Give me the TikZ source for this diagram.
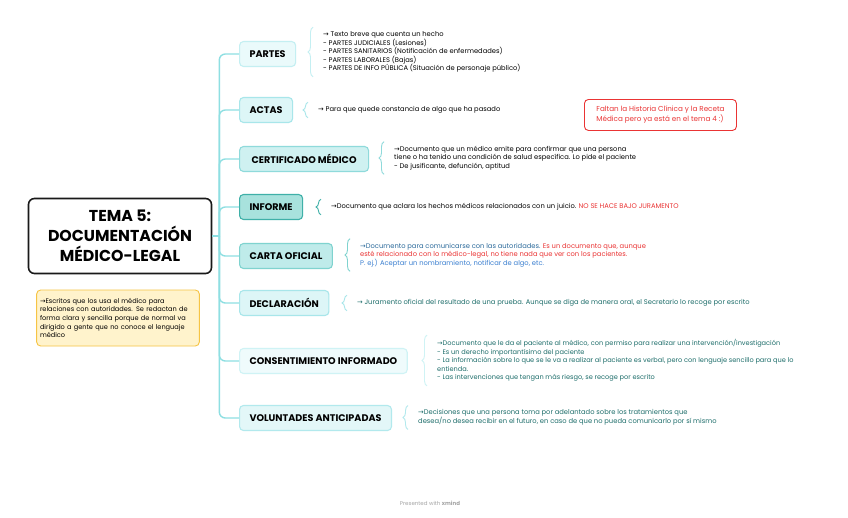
\documentclass[tikz,border=0pt]{standalone}
\usepackage{fontspec}
\setmainfont{Poppins}
\newfontfamily\symfont{DejaVu Sans}
\usetikzlibrary{positioning,calc,decorations.pathreplacing}

\definecolor{trunkc}{HTML}{8EDFE2}
\definecolor{txtteal}{HTML}{1E6E6B}
\definecolor{txtred}{HTML}{EA3434}
\definecolor{txtblue}{HTML}{2B6A9B}
\definecolor{txtblueb}{HTML}{3A7FD0}
\definecolor{yelfill}{HTML}{FFF3CC}
\definecolor{yeldraw}{HTML}{F6C445}
% topic borders / fills
\definecolor{bdA}{HTML}{C4EFF2}\definecolor{flA}{HTML}{EAFAFB}
\definecolor{bdB}{HTML}{A8E6EA}\definecolor{flB}{HTML}{DDF6F7}
\definecolor{bdC}{HTML}{8FDADB}\definecolor{flC}{HTML}{CFF1F1}
\definecolor{bdD}{HTML}{3FB0A8}\definecolor{flD}{HTML}{A8E2DD}
\definecolor{bdE}{HTML}{7FD3CF}\definecolor{flE}{HTML}{BFEBEA}
\definecolor{bdF}{HTML}{CFF3F5}\definecolor{flF}{HTML}{EFFBFC}
\definecolor{bdG}{HTML}{B2E9ED}\definecolor{flG}{HTML}{E3F7F8}
\newcommand{\arr}{{\symfont →}}

\begin{document}
\begin{tikzpicture}[
    x=1pt, y=-1pt,
    rootbox/.style={draw=black!90, line width=1.6pt, rounded corners=6pt, fill=white,
                    minimum width=183pt, minimum height=75pt, align=center,
                    font=\fontsize{15.8}{20}\selectfont\bfseries},
    topic/.style 2 args={draw=#1, fill=#2, line width=1.1pt, rounded corners=4pt,
                    minimum height=25pt, inner xsep=10pt, anchor=west,
                    font=\fontsize{9.6}{11}\selectfont\bfseries},
    conn/.style={trunkc, line width=1.4pt, rounded corners=6pt},
    brc/.style={decorate, decoration={brace, amplitude=5pt}, line width=0.9pt},
    det/.style={anchor=west, align=left, inner xsep=0pt, inner ysep=4pt,
                font=\fontsize{6.75}{8.6}\selectfont},
    yelnote/.style={draw=yeldraw, fill=yelfill, line width=0.9pt,
                    rounded corners=4pt, align=left, text width=156pt,
                    minimum height=56pt, font=\fontsize{6.6}{8.6}\selectfont},
    rednote/.style={draw=txtred, fill=white, line width=0.9pt, rounded corners=4pt,
                    align=left, minimum width=152pt, minimum height=31pt,
                    text=txtred, font=\fontsize{7.2}{10}\selectfont},
  ]
  \fill[white] (0,0) rectangle (848,517);
  \useasboundingbox (0,0) rectangle (848,517);

  % ============================== Centre ===================================
  \node[rootbox] (root) at (120,236) {TEMA 5:\\DOCUMENTACIÓN\\MÉDICO-LEGAL};
  \node[yelnote] (yel) at (118,318)
    {\arr Escritos que los usa el médico para\\relaciones con autoridades. Se redactan de\\
     forma clara y sencilla porque de normal va\\dirigido a gente que no conoce el lenguaje\\médico};

  % ============================== Topics ===================================
  \node[topic={bdA}{flA}] (partes)  at (239,54)  {PARTES};
  \node[topic={bdB}{flB}] (actas)   at (239,110) {ACTAS};
  \node[topic={bdC}{flC}, minimum width=129pt] (cert) at (239,159) {CERTIFICADO MÉDICO};
  \node[topic={bdD}{flD}] (informe) at (239,207) {INFORME};
  \node[topic={bdE}{flE}] (carta)   at (239,256) {CARTA OFICIAL};
  \node[topic={bdB}{flB}] (decl)    at (239,303) {DECLARACIÓN};
  \node[topic={bdF}{flF}] (consent) at (239,361) {CONSENTIMIENTO INFORMADO};
  \node[topic={bdG}{flG}] (volunt)  at (239,418) {VOLUNTADES ANTICIPADAS};

  \coordinate (spine) at ($(root.east)+(7,0)$);
  \draw[conn] (root.east) -- (spine);
  \foreach \b in {partes,actas,cert,informe,carta,decl,consent,volunt}
    \draw[conn] (spine) |- (\b.west);

  % ============================== Details ==================================
  \node[det] (dpartes) at (323,52)
    {\arr\ Texto breve que cuenta un hecho\\- PARTES JUDICIALES (Lesiones)\\
     - PARTES SANITARIOS (Notificación de enfermedades)\\- PARTES LABORALES (Bajas)\\
     - PARTES DE INFO PÚBLICA (Situación de personaje público)};
  \node[det] (dactas) at (318,110) {\arr\ Para que quede constancia de algo que ha pasado};
  \node[det] (dcert) at (394,158)
    {\arr Documento que un médico emite para confirmar que una persona\\
     tiene o ha tenido una condición de salud específica. Lo pide el paciente\\
     - De jusificante, defunción, aptitud};
  \node[det] (dinforme) at (331,207)
    {\arr Documento que aclara los hechos médicos relacionados con un juicio.
     \textcolor{txtred}{NO SE HACE BAJO JURAMENTO}};
  \node[det, text=txtblue] (dcarta) at (360,255)
    {\arr Documento para comunicarse con las autoridades.
     \textcolor{txtred}{Es un documento que, aunque}\\
     \textcolor{txtred}{esté relacionado con lo médico-legal, no tiene nada que ver con los pacientes.}\\
     \textcolor{txtblueb}{P. ej.) Aceptar un nombramiento, notificar de algo, etc.}};
  \node[det, text=txtteal] (ddecl) at (357,303)
    {\arr\ Juramento oficial del resultado de una prueba. Aunque se diga de manera oral, el Secretario lo recoge por escrito};
  \node[det, text=txtteal, font=\fontsize{6.6}{8.6}\selectfont] (dconsent) at (437,360.5)
    {\arr Documento que le da el paciente al médico, con permiso para realizar una intervención/investigación\\
     - Es un derecho importantísimo del paciente\\
     - La información sobre lo que se le va a realizar al paciente es verbal, pero con lenguaje sencillo para que lo\\
     entienda.\\
     - Las intervenciones que tengan más riesgo, se recoge por escrito};
  \node[det, text=txtteal] (dvolunt) at (418,417.5)
    {\arr Decisiones que una persona toma por adelantado sobre los tratamientos que\\
     desea/no desea recibir en el futuro, en caso de que no pueda comunicarlo por sí mismo};

  \foreach \d/\c in {dpartes/bdA, dactas/bdB, dcert/bdC, dinforme/bdD,
                     dcarta/bdE, ddecl/bdB, dconsent/bdF, dvolunt/bdG}
    \draw[brc, \c] ([xshift=-10pt]\d.south west) -- ([xshift=-10pt]\d.north west);

  % ============================== Notes ====================================
  \node[rednote, anchor=north west] (red) at (584,99)
    {Faltan la Historia Clínica y la Receta\\Médica pero ya está en el tema 4 :)};
  \node[font=\fontsize{5.5}{7}\selectfont, text=black!35] (foot) at (430,503)
    {Presented with \textbf{xmind}};
\end{tikzpicture}
\end{document}
